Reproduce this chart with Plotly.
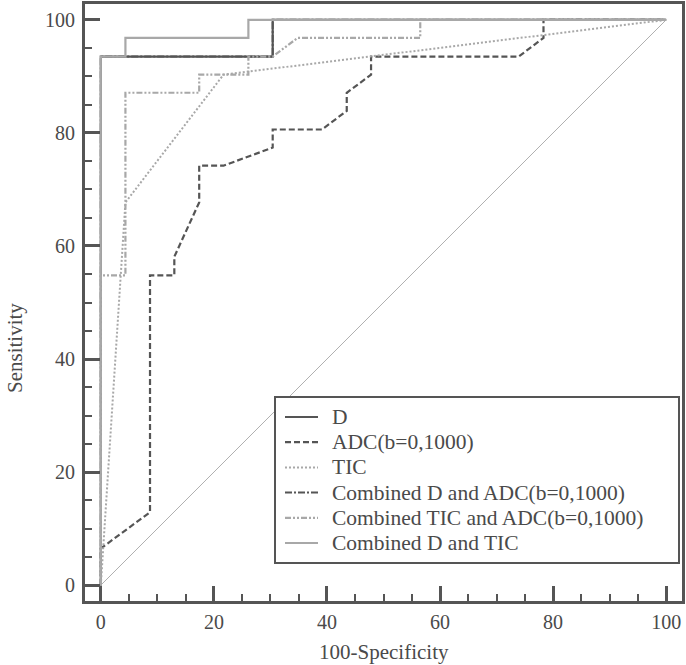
import plotly.graph_objects as go

# 100-Specificity (x) and Sensitivity (y) for each ROC curve
d_x = [0, 0, 30.4, 30.4, 100]
d_y = [0, 93.5, 93.5, 100, 100]

adc_x = [0, 0, 8.7, 8.7, 13.0, 13.0, 17.4, 17.4, 21.7, 30.4, 30.4, 39.1, 43.5, 43.5, 47.8, 47.8, 73.9, 78.3, 78.3, 100]
adc_y = [0, 6.5, 12.9, 54.8, 54.8, 58.1, 67.7, 74.2, 74.2, 77.4, 80.6, 80.6, 83.9, 87.1, 90.3, 93.5, 93.5, 96.8, 100, 100]

tic_x = [0, 4.35, 21.7, 100]
tic_y = [0, 67.7, 90.3, 100]

d_adc_x = [0, 0, 30.4, 30.4, 100]
d_adc_y = [0, 93.5, 93.5, 100, 100]

tic_adc_x = [0, 0, 4.35, 4.35, 17.4, 17.4, 26.1, 26.1, 30.4, 34.8, 56.5, 56.5, 100]
tic_adc_y = [0, 54.8, 54.8, 87.1, 87.1, 90.3, 90.3, 93.5, 93.5, 96.8, 96.8, 100, 100]

d_tic_x = [0, 0, 4.35, 4.35, 26.1, 26.1, 100]
d_tic_y = [0, 93.5, 93.5, 96.8, 96.8, 100, 100]

ref_x = [0, 100]
ref_y = [0, 100]

names = ["D", "ADC(b=0,1000)", "TIC", "Combined D and ADC(b=0,1000)",
         "Combined TIC and ADC(b=0,1000)", "Combined D and TIC"]

DARK = "#555555"
LIGHT = "#a8a8a8"
TXT = "#4a4a4a"
FONT = "Liberation Serif"

W, H = 686, 665
ML, MR, MT, MB = 85, 4, 4, 64
PW, PH = W - ML - MR, H - MT - MB


def px(x):
    return (x - ML) / PW


def py(y):
    return (H - MB - y) / PH


fig = go.Figure()
fig.add_trace(go.Scatter(x=ref_x, y=ref_y, mode="lines", showlegend=False,
                         line=dict(color="#b0b0b0", width=1), hoverinfo="skip"))

styles = [
    (DARK, "solid", 2.2),
    (DARK, "6px,3px", 2.2),
    (LIGHT, "2px,2px", 2),
    (DARK, "7px,2px,2px,2px", 2),
    (LIGHT, "6px,2px,2px,2px,2px,2px", 2.2),
    (LIGHT, "solid", 2.2),
]
data = [(d_x, d_y), (adc_x, adc_y), (tic_x, tic_y), (d_adc_x, d_adc_y),
        (tic_adc_x, tic_adc_y), (d_tic_x, d_tic_y)]

for (xs, ys), (col, dash, w), nm in zip(data, styles, names):
    fig.add_trace(go.Scatter(x=xs, y=ys, mode="lines", name=nm, showlegend=False,
                             line=dict(color=col, width=w, dash=dash)))

axis_common = dict(
    showgrid=False, zeroline=False, automargin=False,
    showline=True, mirror=True, linecolor=DARK, linewidth=3,
    ticks="inside", ticklen=15, tickwidth=3, tickcolor=DARK,
    tickfont=dict(family=FONT, size=20, color=TXT),
    tick0=0, dtick=20,
    minor=dict(ticks="inside", dtick=5, ticklen=7, tickwidth=2, tickcolor=DARK),
)
fig.update_xaxes(range=[-2.8, 102.8], ticklabelstandoff=1, **axis_common)
fig.update_yaxes(range=[-2.8, 102.8], ticklabelstandoff=3, **axis_common)

# legend box drawn by hand to match spacing
shapes = [dict(type="rect", xref="paper", yref="paper",
               x0=px(275), x1=px(679), y0=py(563), y1=py(397),
               line=dict(color=DARK, width=2), fillcolor="white", layer="above")]
annotations = []
row0, step = 417, 25.2
for i, (nm, (col, dash, w)) in enumerate(zip(names, styles)):
    yy = py(row0 + i * step)
    shapes.append(dict(type="line", xref="paper", yref="paper",
                       x0=px(285), x1=px(318), y0=yy, y1=yy,
                       line=dict(color=col, width=w, dash=dash), layer="above"))
    annotations.append(dict(text=nm, xref="paper", yref="paper", x=px(330), y=yy,
                            xanchor="left", yanchor="middle", showarrow=False,
                            font=dict(family=FONT, size=21.5, color=TXT)))

annotations += [
    dict(text="100-Specificity", xref="paper", yref="paper", x=0.5, y=py(652),
         xanchor="center", yanchor="middle", showarrow=False,
         font=dict(family=FONT, size=21, color=TXT)),
    dict(text="Sensitivity", xref="paper", yref="paper", x=px(15), y=py(348),
         xanchor="center", yanchor="middle", showarrow=False, textangle=-90,
         font=dict(family=FONT, size=21, color=TXT)),
]

fig.update_layout(
    width=W, height=H,
    margin=dict(l=ML, r=MR, t=MT, b=MB),
    plot_bgcolor="white", paper_bgcolor="white",
    font=dict(family=FONT, color=TXT),
    showlegend=False,
    shapes=shapes,
    annotations=annotations,
)

fig.write_html("out.html", config={"displayModeBar": False},
               post_script="document.body.style.margin='0px';document.body.style.overflow='hidden';")
